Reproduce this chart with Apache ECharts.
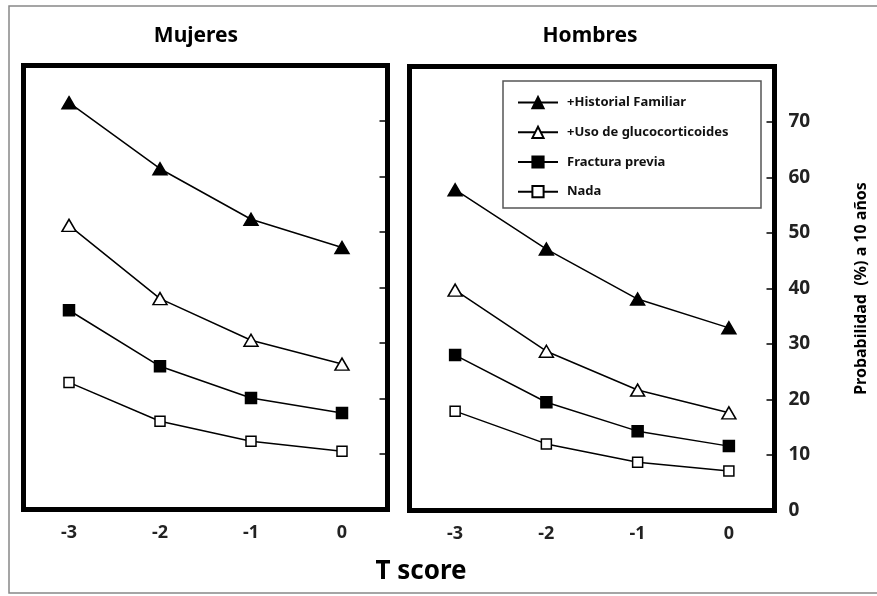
<!DOCTYPE html>
<html>
<head>
<meta charset="utf-8">
<script src="https://cdn.jsdelivr.net/npm/echarts@6/dist/echarts.min.js"></script>
<style>
html,body{margin:0;padding:0;background:#fff;}
#chart{width:877px;height:596px;}
</style>
</head>
<body>
<div id="chart"></div>
<script>
// ---- Data ----
const tScores = [-3, -2, -1, 0];
const xTickLabels = [-3, -2, -1, 0];
const yTickLabels = [0, 10, 20, 30, 40, 50, 60, 70];
const panelTitles = ['Mujeres', 'Hombres'];
const seriesNames = ['+Historial Familiar', '+Uso de glucocorticoides', 'Fractura previa', 'Nada'];

// Mujeres
const histFamMujeres   = [73.3, 61.4, 52.3, 47.2];
const glucoMujeres     = [51.2, 38.0, 30.5, 26.2];
const fracturaMujeres  = [35.9, 25.8, 20.1, 17.4];
const nadaMujeres      = [22.9, 15.9, 12.3, 10.5];
// Hombres
const histFamHombres   = [57.8, 47.1, 38.1, 32.9];
const glucoHombres     = [39.7, 28.7, 21.7, 17.6];
const fracturaHombres  = [28.0, 19.5, 14.3, 11.6];
const nadaHombres      = [17.9, 12.0, 8.7, 7.1];

const FONT = '"Noto Sans", "DejaVu Sans", sans-serif';

const markerStyles = [
  {symbol: 'triangle', size: [14, 12], fill: '#000'},
  {symbol: 'triangle', size: [14, 12], fill: '#fff'},
  {symbol: 'rect', size: [11, 11], fill: '#000'},
  {symbol: 'rect', size: [10, 10], fill: '#fff'}
];

const panels = [
  [histFamMujeres, glucoMujeres, fracturaMujeres, nadaMujeres],
  [histFamHombres, glucoHombres, fracturaHombres, nadaHombres]
];

const series = [];
panels.forEach((panel, p) => {
  panel.forEach((vals, i) => {
    const m = markerStyles[i];
    series.push({
      type: 'line',
      name: seriesNames[i],
      xAxisIndex: p,
      yAxisIndex: p,
      data: tScores.map((t, k) => [t, vals[k]]),
      symbol: m.symbol,
      symbolSize: m.size,
      showAllSymbol: true,
      lineStyle: {color: '#000', width: 1.5},
      itemStyle: {color: m.fill, borderColor: '#000', borderWidth: 1.5},
      emphasis: {disabled: true},
      z: 3
    });
  });
});

const gridBase = {show: true, borderColor: '#000', borderWidth: 5, backgroundColor: '#fff'};

const xAxisBase = {
  type: 'value', min: -3.5, max: 0.5,
  axisLine: {show: false, onZero: false},
  splitLine: {show: false},
  axisTick: {show: false},
  axisLabel: {
    customValues: xTickLabels,
    margin: 14,
    color: '#222', fontSize: 18, fontWeight: 'bold', fontFamily: FONT
  }
};

const yAxisBase = {
  type: 'value', min: 0, max: 80, interval: 10, position: 'right',
  axisLine: {show: false, onZero: false},
  splitLine: {show: false},
  axisTick: {show: true, inside: true, length: 8, customValues: yTickLabels, lineStyle: {color: '#000', width: 1.5}}
};

const option = {
  animation: false,
  backgroundColor: '#fff',
  grid: [
    Object.assign({left: 23.5, top: 65.5, width: 364, height: 444}, gridBase),
    Object.assign({left: 409.5, top: 66.5, width: 365, height: 444}, gridBase)
  ],
  xAxis: [
    Object.assign({gridIndex: 0}, xAxisBase),
    Object.assign({gridIndex: 1}, xAxisBase)
  ],
  yAxis: [
    Object.assign({gridIndex: 0, axisLabel: {show: false}}, yAxisBase),
    Object.assign({
      gridIndex: 1,
      axisLabel: {
        show: true, customValues: yTickLabels, margin: 14,
        color: '#222', fontSize: 19, fontWeight: 'bold', fontFamily: FONT
      },
      name: 'Probabilidad  (%) a 10 años',
      nameLocation: 'middle',
      nameRotate: 90,
      nameGap: 79,
      nameTextStyle: {color: '#000', fontSize: 16, fontWeight: 'bold', fontFamily: FONT}
    }, yAxisBase)
  ],
  legend: {
    orient: 'vertical',
    left: 517,
    top: 96,
    itemWidth: 40,
    itemHeight: 14,
    itemGap: 16.5,
    padding: 0,
    data: seriesNames,
    selectedMode: false,
    textStyle: {color: '#111', fontSize: 13, fontWeight: 'bold', fontFamily: FONT, padding: [0, 0, 0, 4]},
    z: 10
  },
  graphic: [
    {type: 'rect', shape: {x: 9, y: 6, width: 880, height: 587}, style: {fill: 'none', stroke: '#888', lineWidth: 1.5}, z: 0, silent: true},
    {type: 'rect', shape: {x: 503, y: 81, width: 258, height: 127}, style: {fill: '#fff', stroke: '#555', lineWidth: 1.5}, z: 5, silent: true},
    {type: 'text', x: 196, y: 36, style: {text: panelTitles[0], font: 'bold 21px ' + FONT, textAlign: 'center', textVerticalAlign: 'middle', fill: '#000'}},
    {type: 'text', x: 590, y: 36, style: {text: panelTitles[1], font: 'bold 21px ' + FONT, textAlign: 'center', textVerticalAlign: 'middle', fill: '#000'}},
    {type: 'text', x: 421, y: 572, style: {text: 'T score', font: 'bold 26px ' + FONT, textAlign: 'center', textVerticalAlign: 'middle', fill: '#000'}}
  ],
  series: series
};

const chart = echarts.init(document.getElementById('chart'), null, {renderer: 'canvas'});
chart.setOption(option);
</script>
</body>
</html>
